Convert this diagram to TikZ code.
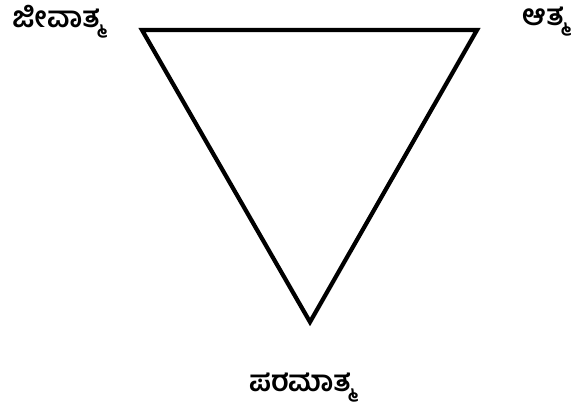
\documentclass[tikz,border=0pt]{standalone}
\usepackage{fontspec}
\newfontfamily\kannadafont[Script=Kannada]{Hind Mysuru}
\usetikzlibrary{positioning}

\begin{document}
\begin{tikzpicture}[x=0.02cm,y=-0.02cm]
  \tikzset{lbl/.style={font=\kannadafont\bfseries\fontsize{16.5}{20}\selectfont,inner sep=0pt}}
  \useasboundingbox (0,0) rectangle (572,415);
  \coordinate (jiva) at (142,30);
  \coordinate (atma) at (477,30);
  \coordinate (param) at (310,322);
  \draw[line width=2.4pt,line join=miter] (jiva) -- (atma) -- (param) -- cycle;
  \node[lbl] (jivalbl) at (58,22) {ಜೀವಾತ್ಮ};
  \node[lbl] (atmalbl) at (545,22) {ಆತ್ಮ};
  \node[lbl] (paramlbl) at (302,388) {ಪರಮಾತ್ಮ};
\end{tikzpicture}
\end{document}
